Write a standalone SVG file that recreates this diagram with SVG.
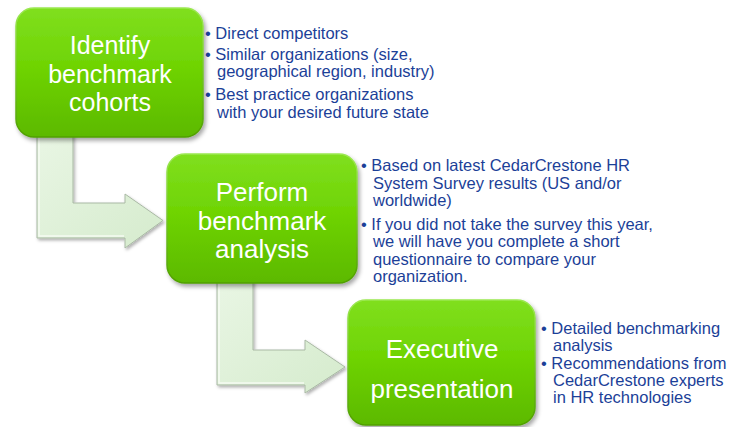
<svg xmlns="http://www.w3.org/2000/svg" width="730" height="427" viewBox="0 0 730 427">
  <defs>
    <linearGradient id="boxFill" x1="0" y1="0" x2="0" y2="1">
      <stop offset="0" stop-color="#80df1e"/>
      <stop offset="0.45" stop-color="#6fd404"/>
      <stop offset="1" stop-color="#5cb900"/>
    </linearGradient>
    <linearGradient id="boxEdge" x1="0" y1="0" x2="0" y2="1">
      <stop offset="0" stop-color="#9be850"/>
      <stop offset="1" stop-color="#4f9f00"/>
    </linearGradient>
    <linearGradient id="arrowFill" x1="0" y1="0" x2="1" y2="1">
      <stop offset="0" stop-color="#e9f6e4"/>
      <stop offset="1" stop-color="#d5ebcd"/>
    </linearGradient>
    <filter id="shadow" x="-10%" y="-10%" width="125%" height="130%">
      <feDropShadow dx="2" dy="3" stdDeviation="2.2" flood-color="#000" flood-opacity="0.35"/>
    </filter>
    <filter id="ashadow" x="-10%" y="-10%" width="125%" height="130%">
      <feDropShadow dx="1.5" dy="2" stdDeviation="1.5" flood-color="#000" flood-opacity="0.3"/>
    </filter>
  </defs>
  <style>
    .box { fill: url(#boxFill); stroke: url(#boxEdge); stroke-width: 1.5; filter: url(#shadow); }
    .arrow { fill: url(#arrowFill); stroke: #a9b9a4; stroke-width: 1; filter: url(#ashadow); }
    .arrowIn { fill: none; stroke: #f7fcf5; stroke-width: 1.5; opacity: 0.9; }
    .title { font-family: "Liberation Sans", Arial, sans-serif; fill: #ffffff; text-anchor: middle; }
    .bul { font-family: "Liberation Sans", Arial, sans-serif; fill: #1c3f98; font-size: 16.5px; }
  </style>
  <rect width="730" height="427" fill="#ffffff"/>

  <g id="connectors">
    <g id="arrow-1">
      <polygon class="arrow" points="37,132 73,132 73,203 125,203 125,194 163,220.5 125,248 125,238 37,238"/>
      <polyline class="arrowIn" points="39,134 39,236 124,236"/>
    </g>
    <g id="arrow-2">
      <polygon class="arrow" points="217,278 253,278 253,350 305,350 305,340 345,367 305,393 305,385 217,385"/>
      <polyline class="arrowIn" points="219,280 219,383 304,383"/>
    </g>
  </g>

  <g id="node-identify">
    <rect class="box" x="16" y="8" width="187" height="129" rx="18"/>
    <text class="title" font-size="25" x="110" y="54">Identify</text>
    <text class="title" font-size="25" x="110" y="82.5">benchmark</text>
    <text class="title" font-size="25" x="110" y="111">cohorts</text>
    <text class="bul" x="205" y="38.5">• Direct competitors</text>
    <text class="bul" x="205" y="59.5">• Similar organizations (size,</text>
    <text class="bul" x="217" y="77">geographical region, industry)</text>
    <text class="bul" x="205" y="100">• Best practice organizations</text>
    <text class="bul" x="217" y="117.5">with your desired future state</text>
  </g>

  <g id="node-perform">
    <rect class="box" x="167" y="154" width="190" height="129" rx="18"/>
    <text class="title" font-size="26" x="262" y="201">Perform</text>
    <text class="title" font-size="26" x="262" y="229.5">benchmark</text>
    <text class="title" font-size="26" x="262" y="258">analysis</text>
    <text class="bul" x="361" y="171">• Based on latest CedarCrestone HR</text>
    <text class="bul" x="373" y="188.5">System Survey results (US and/or</text>
    <text class="bul" x="373" y="206">worldwide)</text>
    <text class="bul" x="361" y="229.5">• If you did not take the survey this year,</text>
    <text class="bul" x="373" y="247">we will have you complete a short</text>
    <text class="bul" x="373" y="264.5">questionnaire to compare your</text>
    <text class="bul" x="373" y="282">organization.</text>
  </g>

  <g id="node-executive">
    <rect class="box" x="348" y="300" width="187" height="125" rx="18"/>
    <text class="title" font-size="26" x="442" y="358">Executive</text>
    <text class="title" font-size="26" x="442" y="398">presentation</text>
    <text class="bul" x="541" y="333.5">• Detailed benchmarking</text>
    <text class="bul" x="553" y="350.5">analysis</text>
    <text class="bul" x="541" y="368.5">• Recommendations from</text>
    <text class="bul" x="553" y="385.5">CedarCrestone experts</text>
    <text class="bul" x="553" y="402.5">in HR technologies</text>
  </g>
</svg>
